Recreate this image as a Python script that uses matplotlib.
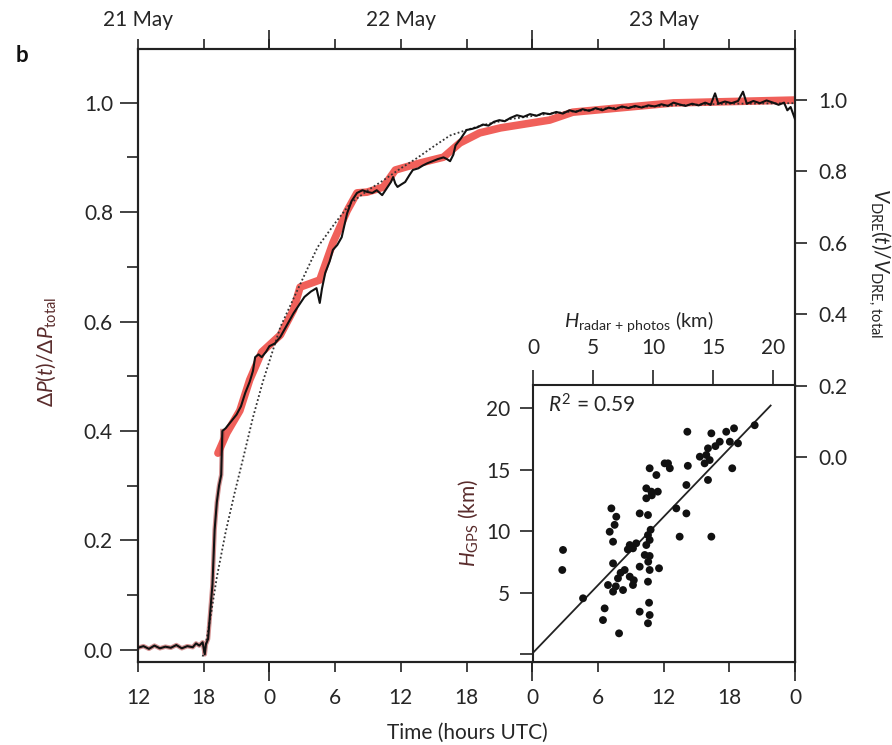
import matplotlib
matplotlib.use('Agg')
import matplotlib.pyplot as plt
import numpy as np
from matplotlib.ticker import FixedLocator

plt.rcParams['font.family'] = ['Lato', 'DejaVu Sans']
plt.rcParams['mathtext.fontset'] = 'custom'
plt.rcParams['mathtext.rm'] = 'Lato'
plt.rcParams['mathtext.it'] = 'Lato:italic'
plt.rcParams['mathtext.bf'] = 'Lato:bold'

# ---------------- data ----------------
# time in hours since 21 May 00 UTC
bottom_tick_pos = [12, 18, 24, 30, 36, 42, 48, 54, 60, 66, 72]
bottom_tick_labels = ['12', '18', '0', '6', '12', '18', '0', '6', '12', '18', '0']
day_ticks = [24, 48, 72]
date_pos = [12, 36, 60]
date_labels = ['21 May', '22 May', '23 May']

# black: normalized pressure change dP(t)/dP_total (left axis)
black_t = [12.0, 12.5, 13.0, 13.5, 14.0, 14.5, 15.0, 15.5, 16.0, 16.5, 17.0, 17.3, 17.6,
           17.9, 18.1, 18.2, 18.4, 18.6, 18.8, 19.0, 19.2, 19.4, 19.6, 19.7, 20.0, 20.2,
           20.6, 21.0, 21.4, 21.8, 22.2, 22.5, 22.7, 23.0, 23.3, 23.7, 24.0, 24.5, 25.0,
           25.5, 26.2, 26.7, 27.2, 27.8, 28.3, 28.6, 28.8, 29.1, 29.5, 29.8, 30.2, 30.6,
           31.1, 31.5, 32.0, 32.5, 32.9, 33.4, 33.8, 34.3, 34.6, 34.8, 35.1, 35.3, 35.5,
           35.7, 36.0, 36.4, 36.8, 37.1, 37.6, 38.0, 38.4, 38.9, 39.4, 39.9, 40.2, 40.5,
           40.8, 41.0, 41.5, 42.0, 42.5, 43.0, 43.5, 44.0, 44.5, 45.0, 45.5, 46.0, 46.6,
           47.2, 47.8, 48.4, 49.0, 49.6, 50.2, 50.8, 51.4, 52.0, 52.6, 53.2, 53.8, 54.4,
           55.0, 55.6, 56.2, 56.8, 57.4, 58.0, 58.6, 59.2, 59.8, 60.4, 60.9, 61.4, 62.0,
           62.6, 63.2, 63.8, 64.3, 64.7, 65.0, 65.6, 66.2, 66.8, 67.25, 67.6, 68.2, 68.8,
           69.4, 70.0, 70.5, 71.0, 71.3, 71.6, 72.0]
black_v = [0.004, 0.007, 0.002, 0.008, 0.003, 0.006, 0.004, 0.009, 0.003, 0.007, 0.005, 0.012, 0.008,
           0.014, -0.008, 0.010, 0.020, 0.070, 0.120, 0.220, 0.270, 0.300, 0.320, 0.400, 0.405, 0.410,
           0.420, 0.430, 0.445, 0.470, 0.490, 0.510, 0.535, 0.540, 0.535, 0.545, 0.555, 0.560, 0.572,
           0.590, 0.615, 0.630, 0.645, 0.655, 0.661, 0.634, 0.660, 0.689, 0.710, 0.731, 0.740, 0.754,
           0.798, 0.820, 0.835, 0.840, 0.837, 0.835, 0.840, 0.831, 0.840, 0.846, 0.855, 0.864, 0.852,
           0.846, 0.850, 0.855, 0.868, 0.877, 0.880, 0.885, 0.889, 0.893, 0.897, 0.900, 0.897, 0.893,
           0.905, 0.922, 0.935, 0.950, 0.952, 0.955, 0.960, 0.958, 0.965, 0.968, 0.966, 0.972, 0.977,
           0.974, 0.979, 0.976, 0.981, 0.979, 0.983, 0.980, 0.986, 0.983, 0.988, 0.985, 0.990, 0.986,
           0.991, 0.988, 0.993, 0.990, 0.994, 0.991, 0.995, 0.993, 0.997, 0.994, 1.000, 0.997, 0.994,
           0.998, 0.995, 1.000, 0.996, 1.017, 0.998, 1.002, 0.999, 1.003, 1.020, 0.998, 1.003, 0.999,
           1.004, 1.000, 0.996, 1.000, 0.986, 0.992, 0.970]

# red: normalized erupted volume V_DRE(t)/V_DRE,total (right axis)
red_t = [19.3, 20.1, 21.3, 22.2, 23.3, 25.0, 26.2, 26.8, 28.6, 29.8, 31.1, 32.0, 32.9, 34.4,
         35.5, 36.4, 37.8, 39.9, 41.4, 43.2, 45.1, 49.6, 51.7, 60.9, 72.0]
red_v = [0.011, 0.067, 0.130, 0.216, 0.294, 0.342, 0.412, 0.476, 0.496, 0.600, 0.690, 0.740,
         0.742, 0.756, 0.804, 0.812, 0.824, 0.840, 0.880, 0.908, 0.922, 0.944, 0.966, 0.992, 1.000]

# dotted: fitted curve (left axis)
dot_t = [17.9, 18.1, 18.7, 19.2, 20.0, 20.8, 21.6, 22.5, 23.4, 25.0, 26.5, 28.4, 30.0, 31.4,
         33.0, 34.4, 36.0, 37.5, 39.0, 40.5, 42.0, 43.5, 46.0, 49.6, 55.0, 60.9, 66.0, 72.0]
dot_v = [-0.012, 0.000, 0.070, 0.133, 0.215, 0.285, 0.350, 0.425, 0.490, 0.590, 0.655, 0.736,
         0.780, 0.816, 0.840, 0.858, 0.880, 0.899, 0.920, 0.940, 0.950, 0.959, 0.970, 0.980,
         0.990, 0.995, 0.998, 0.999]

left_ticks = [0.0, 0.2, 0.4, 0.6, 0.8, 1.0]
left_minor = [0.1, 0.3, 0.5, 0.7, 0.9]
right_ticks = [0.0, 0.2, 0.4, 0.6, 0.8, 1.0]

# inset scatter: plume height (radar+photos) vs GPS-derived height
h_radar = [12.86, 14.86, 16.10, 16.75, 18.47, 15.56, 16.40, 17.08, 14.58, 14.44, 13.90, 14.72,
           14.30, 12.90, 11.25, 11.40, 10.97, 16.60, 9.72, 10.28, 12.78, 14.58, 9.44, 9.86,
           10.40, 9.44, 6.53, 8.89, 9.58, 11.94, 12.78, 6.94, 15.20, 9.90,
           6.80, 6.39, 6.67, 2.50, 2.44, 8.06, 8.33, 9.58, 9.72, 9.44, 12.22, 14.86, 9.31,
           9.72, 6.67, 7.64, 8.89, 9.72, 10.50, 7.08, 8.06, 8.33, 9.58, 6.25, 6.67, 7.50,
           4.17, 9.67, 5.97, 8.89, 9.72, 5.83, 9.58, 7.17, 7.90, 8.60, 9.80, 6.90, 9.60,
           7.30, 8.40]
h_gps = [18.07, 17.94, 18.07, 18.35, 18.60, 17.26, 17.26, 17.13, 16.72, 16.18, 16.04, 15.77,
         15.50, 15.30, 15.50, 15.10, 15.50, 15.10, 15.10, 14.55, 13.74, 14.15, 13.47, 13.20,
         13.20, 12.66, 11.84, 11.43, 11.30, 11.84, 11.43, 11.16, 16.90, 12.90,
         10.50, 9.94, 9.13, 8.46, 6.83, 8.86, 8.59, 9.67, 9.27, 8.86, 9.54, 9.54, 8.05,
         7.97, 7.37, 6.83, 7.10, 6.83, 6.97, 6.15, 6.29, 5.61, 5.88, 5.61, 5.07, 5.20,
         4.53, 4.17, 3.71, 3.44, 3.17, 2.76, 2.50, 1.68, 8.50, 9.00, 10.10, 5.50, 7.50,
         6.60, 6.00]
fit_x = [0.0, 19.8]
fit_y = [0.1, 20.2]
inset_ticks = [0, 5, 10, 15, 20]
inset_xlabels = ['0', '5', '10', '15', '20']
inset_ylabels = ['', '5', '10', '15', '20']

# ---------------- figure ----------------
W, H = 892, 745
fig = plt.figure(figsize=(W / 100, H / 100), dpi=100)


def rect(x0, y0, x1, y1):
    return [x0 / W, 1 - y1 / H, (x1 - x0) / W, (y1 - y0) / H]


TXT = '#262626'
SP = '#222222'
fs = 15

ax = fig.add_axes(rect(138, 49, 795, 662))
ax_r = ax.twinx()
ax.set_zorder(ax_r.get_zorder() + 1)
ax.patch.set_visible(False)

ax.set_xlim(12, 72)
ax.set_ylim(-0.022, 1.098)
ax_r.set_ylim(-0.574, 1.143)

# curves
ax_r.plot(red_t, red_v, color='#f0605a', lw=5.5, solid_capstyle='round', zorder=2)
bt = np.array(black_t)
bv = np.array(black_v)
m = bt <= 19.8
ax.plot(bt[m], bv[m], color='#b03a3a', lw=3.2, alpha=0.55, zorder=2)
ax.plot(dot_t, dot_v, color='#333333', lw=1.3, ls=(0, (1, 1.3)), zorder=3)
ax.plot(black_t, black_v, color='#111111', lw=1.5, zorder=4)

# spines
for a in (ax, ax_r):
    for s in a.spines.values():
        s.set_color(SP)
        s.set_linewidth(1.5)

# x ticks (bottom and top)
ax.xaxis.set_major_locator(FixedLocator(bottom_tick_pos))
ax.set_xticklabels(bottom_tick_labels)
ax.xaxis.set_minor_locator(FixedLocator(day_ticks))
ax.xaxis.remove_overlapping_locs = False
ax.tick_params(axis='x', which='major', direction='out', length=7, width=1.2, pad=11.5,
               top=True, labelsize=fs, labelcolor=TXT, color=SP)
ax.tick_params(axis='x', which='minor', direction='out', length=13.5, width=1.2,
               top=True, color=SP)

# left y
ax.yaxis.set_major_locator(FixedLocator(left_ticks))
ax.set_yticklabels([f'{v:.1f}' for v in left_ticks])
ax.yaxis.set_minor_locator(FixedLocator(left_minor))
ax.tick_params(axis='y', which='major', direction='out', length=13, width=1.2, pad=5,
               labelsize=fs, labelcolor=TXT, color=SP, right=False)
ax.tick_params(axis='y', which='minor', direction='out', length=8, width=1.2, color=SP,
               right=False)

# right y
ax_r.yaxis.set_major_locator(FixedLocator(right_ticks))
ax_r.set_yticklabels([f'{v:.1f}' for v in right_ticks])
ax_r.tick_params(axis='y', which='major', direction='out', length=8.5, width=1.2, pad=8,
                 labelsize=fs, labelcolor=TXT, color=SP)
ax_r.tick_params(axis='y', which='minor', length=0)

# date labels at top
for p, lab in zip(date_pos, date_labels):
    ax.text(p, 1.047, lab, transform=ax.get_xaxis_transform(), ha='center', va='center',
            fontsize=fs, color=TXT)

# ---------------- inset ----------------
ax_in = fig.add_axes(rect(533, 385, 795, 662))
ax_in.set_zorder(10)
ax_in.set_facecolor('white')
ax_in.set_xlim(0, 21.83)
ax_in.set_ylim(-0.65, 21.87)
ax_in.scatter(h_radar, h_gps, s=32, color='#111111', edgecolors='none', zorder=3)
ax_in.plot(fit_x, fit_y, color='#222222', lw=1.3, zorder=2)
for s in ax_in.spines.values():
    s.set_color(SP)
    s.set_linewidth(1.5)
ax_in.xaxis.tick_top()
ax_in.set_xticks(inset_ticks)
ax_in.set_xticklabels(inset_xlabels)
ax_in.set_yticks(inset_ticks)
ax_in.set_yticklabels(inset_ylabels)
ax_in.tick_params(axis='x', direction='out', length=11, width=1.2, pad=8.5, labelsize=fs,
                  labelcolor=TXT, color=SP, bottom=False, top=True)
ax_in.tick_params(axis='y', direction='out', length=9.5, width=1.2, pad=7, labelsize=fs,
                  labelcolor=TXT, color=SP, right=False)
ax_in.text(0.057, 0.928, r'$R^2$ = 0.59', transform=ax_in.transAxes, ha='left', va='center',
           fontsize=fs, color=TXT)

# ---------------- labels ----------------
fig.text(46 / W, 1 - 352 / H, r'$\Delta P(t)/\Delta P_{\mathrm{total}}$', rotation=90,
         ha='center', va='center', fontsize=fs, color='#5a2c2c')
fig.text(879 / W, 1 - 263 / H, r'$V_{\mathrm{DRE}}(t)/V_{\mathrm{DRE,\,total}}$', rotation=270,
         ha='center', va='center', fontsize=fs, color=TXT)
fig.text(468 / W, 1 - 523 / H, r'$H_{\mathrm{GPS}}$ (km)', rotation=90,
         ha='center', va='center', fontsize=fs, color='#5a2c2c')
fig.text(639 / W, 1 - 322 / H, r'$H_{\mathrm{radar\,+\,photos}}$ (km)',
         ha='center', va='center', fontsize=14.5, color=TXT)
fig.text(467 / W, 1 - 733 / H, 'Time (hours UTC)', ha='center', va='center',
         fontsize=fs, color=TXT)
fig.text(22 / W, 1 - 55 / H, 'b', ha='center', va='center', fontsize=16,
         fontweight='bold', color='#111111')

fig.savefig('out.png', dpi=100)
